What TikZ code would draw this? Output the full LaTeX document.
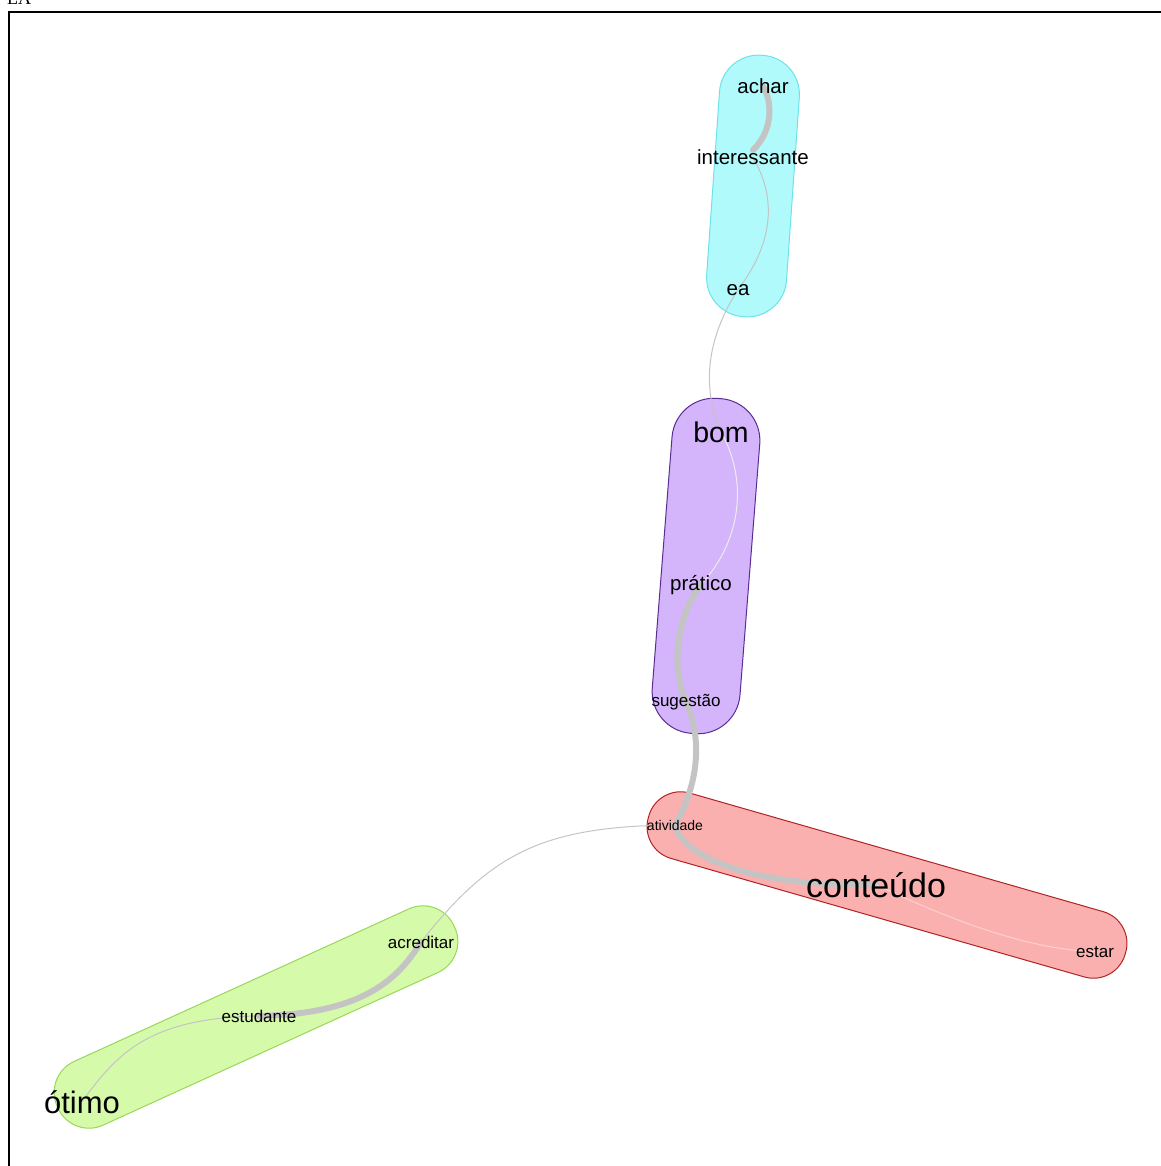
\documentclass[tikz,border=0pt]{standalone}
\usepackage{fontspec}
\setmainfont{Liberation Sans}
\newfontfamily\serifLA{Liberation Serif}
\pgfdeclarelayer{blobs}
\pgfdeclarelayer{edges}
\pgfsetlayers{blobs,edges,main}
\definecolor{cyanfill}{HTML}{B0FAFC}
\definecolor{cyanline}{HTML}{6EE2EA}
\definecolor{purpfill}{HTML}{D4B4FA}
\definecolor{purpline}{HTML}{5A2D91}
\definecolor{redfill}{HTML}{FBB0B0}
\definecolor{redline}{HTML}{B22222}
\definecolor{grnfill}{HTML}{D5FAAA}
\definecolor{grnline}{HTML}{9AD65A}
\definecolor{edgegray}{HTML}{C4C4C4}
\tikzset{
  word/.style={anchor=base, inner sep=0pt, text=black},
  wS/.style={word, font=\fontsize{14}{16}\selectfont},
  wM/.style={word, font=\fontsize{17}{19}\selectfont},
  wL/.style={word, font=\fontsize{20.5}{23}\selectfont},
  wXL/.style={word, font=\fontsize{28.5}{32}\selectfont},
  wXXL/.style={word, font=\fontsize{34}{38}\selectfont},
  thickedge/.style={draw=edgegray, line width=6pt, line cap=round},
  thinedge/.style={draw=edgegray, line width=1pt},
  faintedge/.style={draw=edgegray!30, line width=1pt},
  blob/.style={line width=1pt},
}
\begin{document}
\begin{tikzpicture}[x=1pt,y=-1pt]
\useasboundingbox (0,0) rectangle (1160,1166);
% frame
\draw[line width=2pt] (9,1175) -- (9,12) -- (1170,12);
\node[anchor=base west, inner sep=0pt, font=\serifLA\fontsize{18}{20}\selectfont] (la) at (7,5) {LA};

% words
\node[wL] (achar) at (763,94) {achar};
\node[wL] (inter) at (753,165) {interessante};
\node[wL] (ea) at (738,295) {ea};
\node[wXL] (bom) at (721,442) {bom};
\node[wL] (pratico) at (701,590) {prático};
\node[wM] (sug) at (686,706) {sugestão};
\node[wS] (ativ) at (675,830) {atividade};
\node[wXXL] (cont) at (876,897) {conteúdo};
\node[wM] (estar) at (1095,957) {estar};
\node[wM] (acred) at (421,948) {acreditar};
\node[wM] (estud) at (259,1022) {estudante};
\node[word, font=\fontsize{31}{34}\selectfont] (otimo) at (82,1113) {ótimo};

% blobs (capsules)
\begin{pgfonlayer}{blobs}
\filldraw[blob, fill=cyanfill, draw=cyanline, rotate around={-4:(753,186)}, rounded corners=39pt]
  (713,55) rectangle (793,317);
\filldraw[blob, fill=purpfill, draw=purpline, rotate around={-4.5:(706,566)}, rounded corners=42pt]
  (662,398) rectangle (750,734);
\filldraw[blob, fill=redfill, draw=redline, rotate around={-16:(887,885)}, rounded corners=33pt]
  (639,851) rectangle (1135,919);
\filldraw[blob, fill=grnfill, draw=grnline, rotate around={24.5:(256,1017)}, rounded corners=34pt]
  (38,982) rectangle (474,1052);
\end{pgfonlayer}

% edges
\begin{pgfonlayer}{edges}
\draw[thickedge] (achar.center) .. controls (772,100) and (774,130) .. (inter.north);
\draw[thinedge] (inter.center) .. controls (778,200) and (772,245) .. (ea.center);
\draw[thinedge] (ea.center) .. controls (712,330) and (698,380) .. (bom.center);
\draw[faintedge] (bom.center) .. controls (748,480) and (742,540) .. (pratico.center);
\draw[thickedge] (pratico.center) .. controls (674,620) and (672,672) .. (sug.center);
\draw[thickedge] (sug.center) .. controls (705,745) and (695,790) .. (ativ.center);
\draw[thickedge] (ativ.center) .. controls (680,852) and (740,887) .. (cont.center);
\draw[draw=redfill!60!white, line width=1pt] (cont.center) .. controls (950,920) and (1030,950) .. (estar.center);
\draw[thinedge] (ativ.center) .. controls (540,826) and (490,855) .. (acred.center);
\draw[thickedge] (acred.center) .. controls (395,985) and (355,1014) .. (estud.center);
\draw[thinedge] (estud.center) .. controls (150,1018) and (118,1052) .. (otimo.center);
\end{pgfonlayer}
\end{tikzpicture}
\end{document}
